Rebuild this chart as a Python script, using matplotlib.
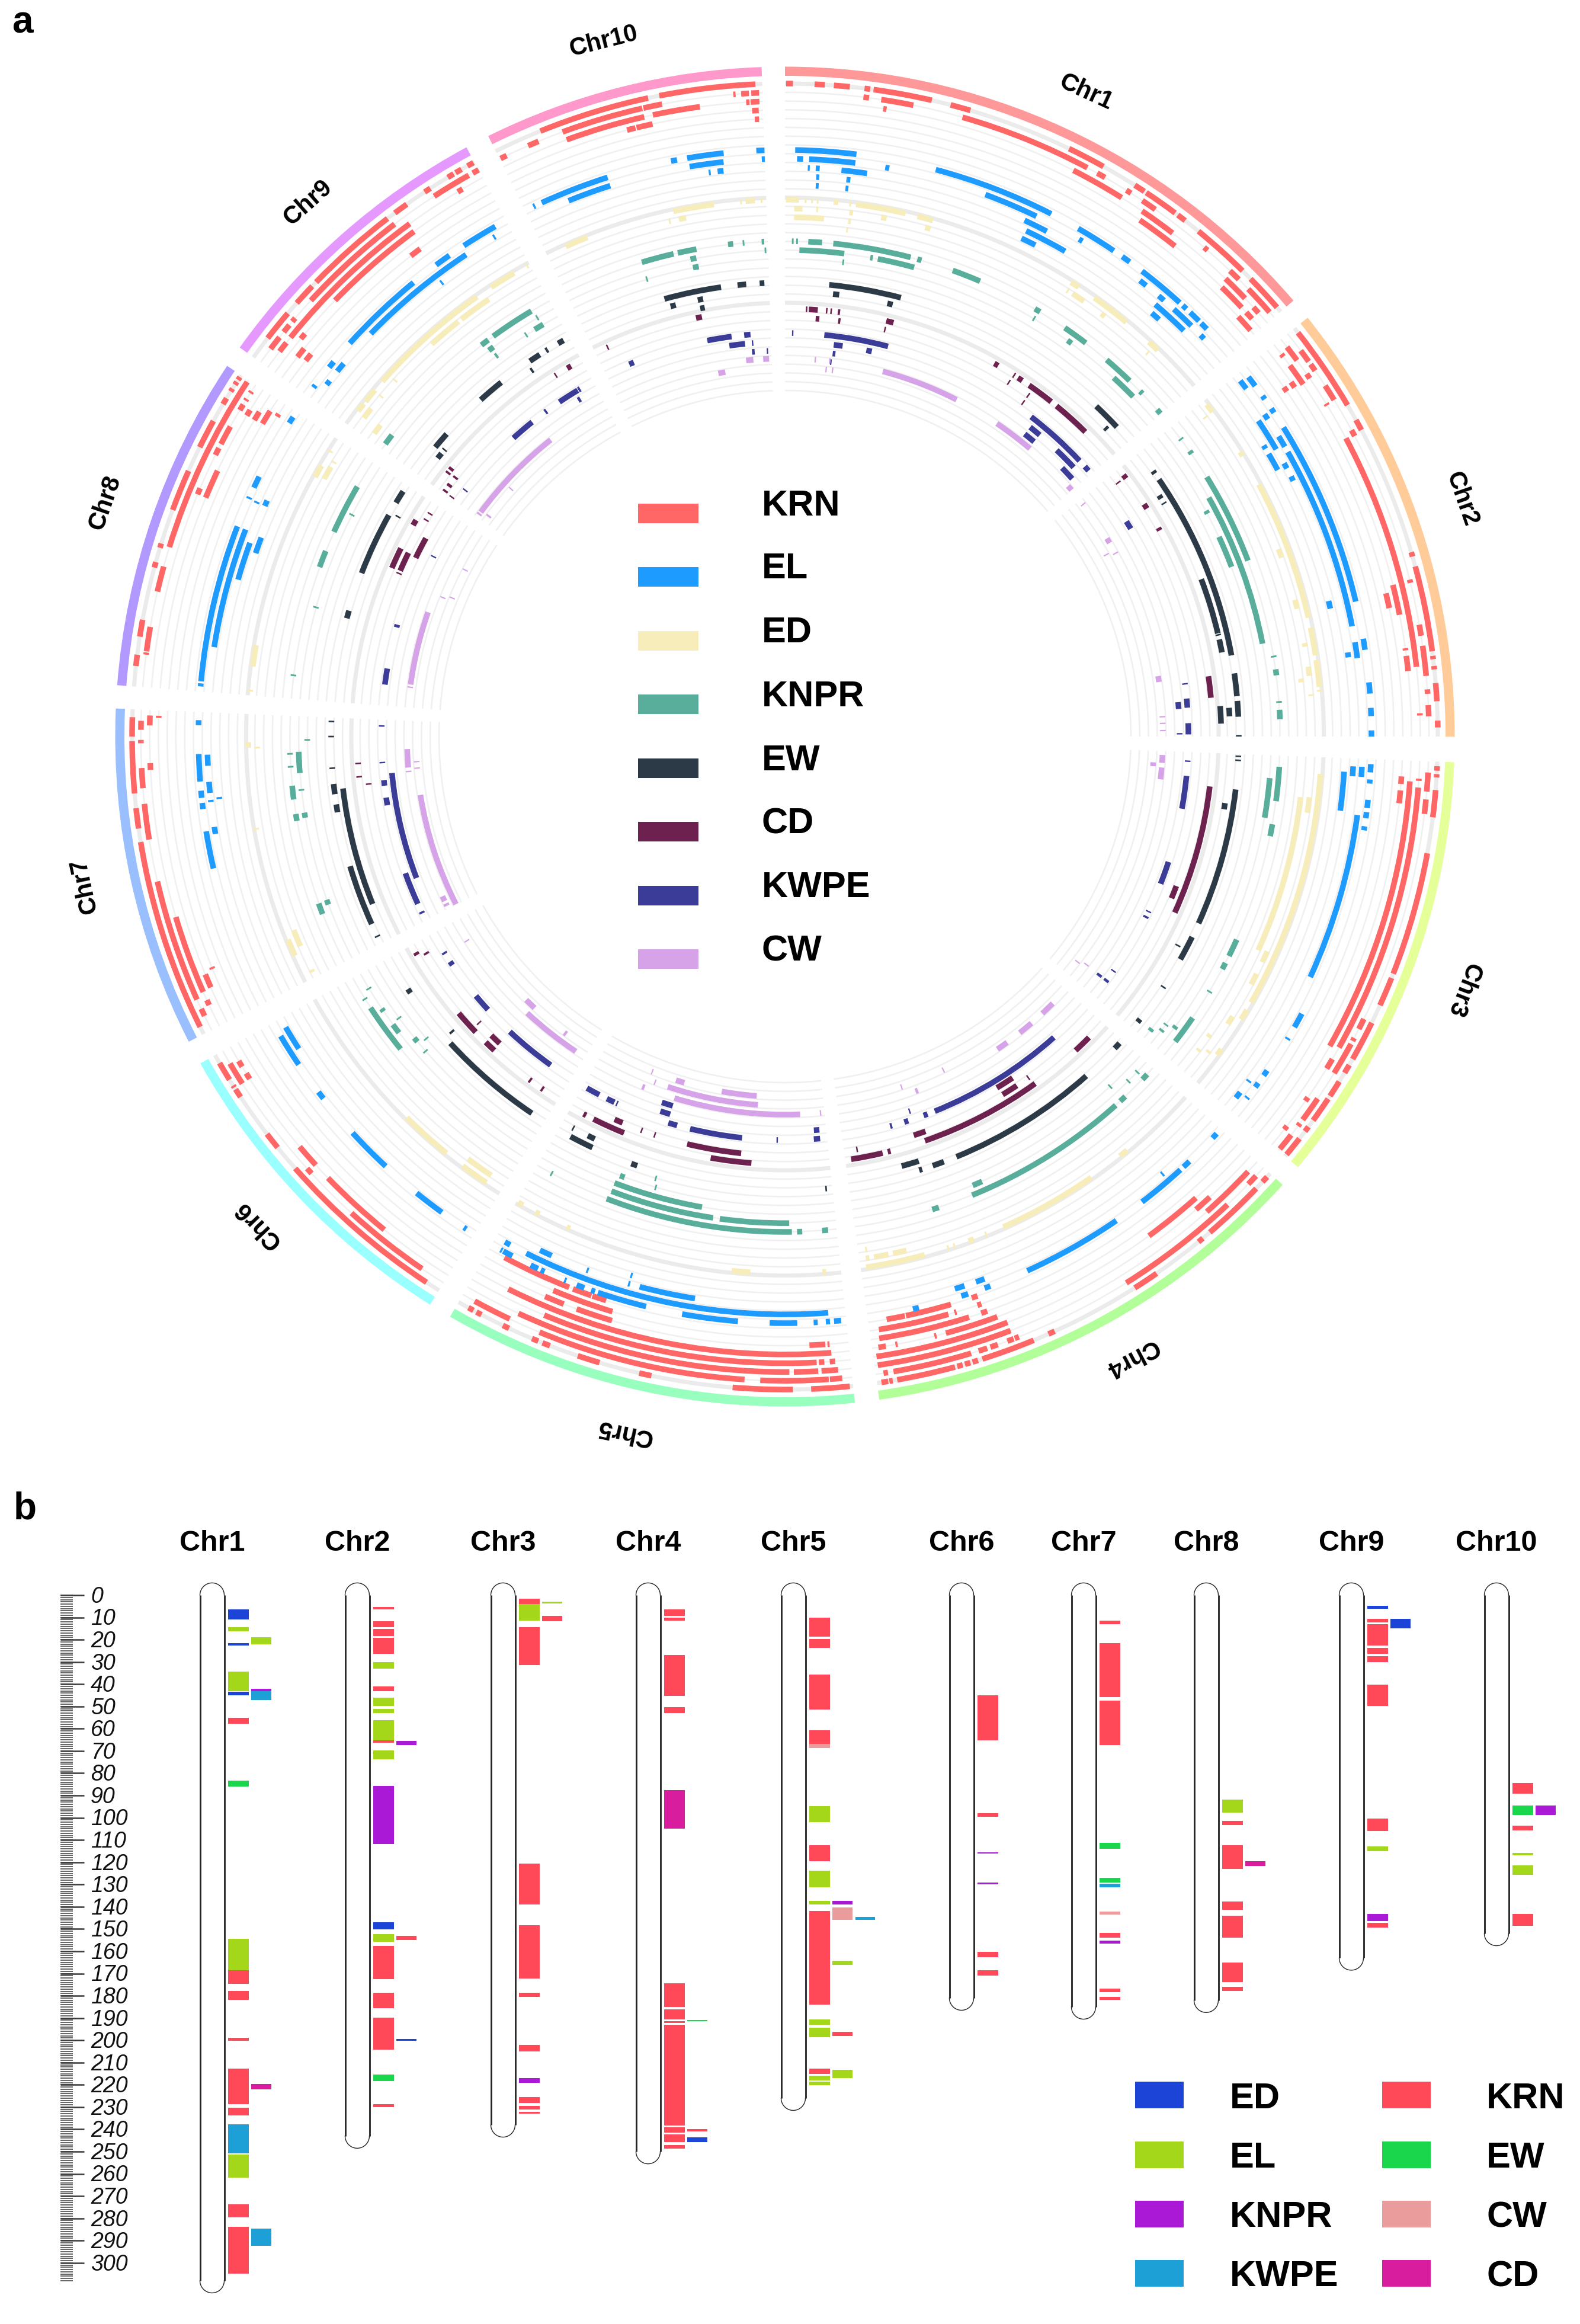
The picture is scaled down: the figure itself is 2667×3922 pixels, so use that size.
import numpy as np
import matplotlib
matplotlib.use("Agg")
import matplotlib.pyplot as plt
from matplotlib.patches import Rectangle

plt.rcParams['font.family'] = ['Liberation Sans', 'DejaVu Sans']

W, H = 2667, 3923
CX, CY = 1325, 1244

CHR_NAMES = ['Chr1', 'Chr2', 'Chr3', 'Chr4', 'Chr5', 'Chr6', 'Chr7', 'Chr8', 'Chr9', 'Chr10']
SECTOR_START = [0.0, 51.3, 92.2, 132.0, 174.0, 212.0, 242.9, 274.4, 305.5, 333.7]
SECTOR_END = [49.4, 90.0, 130.0, 171.9, 210.0, 240.8, 272.4, 303.6, 331.6, 358.0]
SECTOR_COLORS = ['#FF9999', '#FFCC99', '#E5FF99', '#B2FF99', '#99FFBF', '#99FFFF',
                 '#99BFFF', '#B299FF', '#E599FF', '#FF99CC']
LABEL_ANGLE = [25.0, 70.6, 110.4, 150.8, 193.0, 227.2, 258.0, 289.0, 318.2, 345.4]
LABEL_R = [1201, 1211, 1222, 1200, 1204, 1212, 1209, 1214, 1209, 1213]

TRAITS_A = ['KRN', 'EL', 'ED', 'KNPR', 'EW', 'CD', 'KWPE', 'CW']
COLORS_A = ['#FF6666', '#1E9BFF', '#F7EDBB', '#58AE9A', '#2C3A47', '#6D214F', '#3B3B98', '#D6A2E8']
BASE_R = [1102, 990, 906, 836, 766, 722, 681, 638]

# (row, start, end): start and end are positions on the circle, in degrees
KRN = [
 (0,.1,.7),(0,2.6,3.5),(0,4.3,5.7),(0,7,7.5),(1,7,7.5),(0,7.8,13),(1,8.6,11.5),(2,8.9,9.2),(0,14.7,16.5),(1,16,28),
 (0,25.8,29.2),(2,27,32),(1,29,29.8),(1,32,32.5),(0,32.4,33.4),(0,33.6,36.7),(1,33.7,35.1),(0,37,37.8),(2,34.2,37.6),
 (3,34.5,38.5),(0,39.3,44.5),(1,40.6,41),(1,43.7,44.8),(0,45.5,48.9),(1,46,48.8),(2,43.9,46.4),(3,44.2,46.8),(2,47.5,48.2),
 (3,47.4,48.2),(4,47.2,48.9),
 (0,51.8,59.5),(2,52.2,53.7),(1,53.2,54.4),(3,52.4,52.7),(1,54.7,55.4),(3,53.7,55.8),(2,55.2,55.7),(4,55,55.6),(5,55,55.5),
 (1,57,58.5),(2,58.4,58.6),(0,61,62),(1,61.6,62.2),(2,62,83.7),(0,74.9,82.5),(3,76,78.8),(4,76.6,78),(0,73.6,74),(1,75.9,76.2),
 (1,80,81),(3,81.9,82.1),(1,81.9,84.6),(0,82.9,83.2),(0,83.8,84.1),(3,82.6,84),(0,85.3,86.9),(1,85.8,86.2),(1,87.2,88.2),(0,88.6,89.2),(2,87.9,88.1),
 (0,94.7,97.1),(1,93.2,94.9),(1,95.6,96.9),(3,94.1,119.6),(2,94.6,119.3),(0,100.3,111.3),(0,111.7,114.3),(0,116,119.6),(4,95,96.2),(4,93.7,94.4),
 (0,92.6,93),(0,93.3,93.6),(2,93.8,94),(1,116,117),(1,117.9,118.2),(1,118.5,121.5),(2,120.5,121.5),(0,120.2,121),(0,121.9,123.4),(0,123.7,126),(1,124.2,126.5),
 (2,124.6,125),(1,126.9,127.2),(0,126.7,127.2),(1,128.2,129.8),(0,128,129.8),(2,127.8,128.2),
 (4,138.3,143.9),(2,133.2,138.4),(1,133,134),(0,132.4,133),(0,133.8,139.4),(1,136.6,148),(0,145.3,147.6),(3,137.3,139),(0,140.2,140.7),
 (0,155.6,156.2),(0,157.6,162.4),(0,162.8,163.3),(0,163.5,164),(0,164.2,164.7),(0,164.9,170.1),(0,170.5,170.8),(0,170.9,171.5),
 (1,163.2,170.3),(1,170.8,171.2),(1,161.7,162.5),(1,160.7,161.4),(1,159.2,159.8),(1,158.7,159.1),
 (2,159.2,171.6),(3,159.2,171.6),(4,170.6,171.3),(4,169.5,169.7),(4,159.9,164.9),(4,165.8,166),
 (5,162.4,171.1),(5,160.6,161.2),(6,164.2,171),(6,163.4,163.6),(6,160.9,161.3),(7,168.3,170.1),(7,163.7,168.2),(7,161,161.6),
 (0,174.3,177.7),(0,179.3,184.6),(1,176.1,182.2),(1,174.9,176),(1,183.6,202.4),(2,179.6,204.8),(3,177.1,202.6),(2,177,179.2),(2,175.2,176.7),
 (4,175.7,206.6),(3,176.4,176.9),(3,175.4,175.9),(5,176.2,177.7),(5,175.8,176),(1,205.3,208.8),(0,208.5,209),(0,207.7,208.2),(0,205,205.6),
 (0,202.2,202.8),(0,201.1,201.8),(0,196.5,198.5),(0,191.8,192.9),(7,201.4,208.3),(6,196.7,202.7),(7,199.1,201),(7,197.6,199),(5,201.3,203.2),(5,196.5,200),
 (0,213.3,228.6),(1,214.3,222.3),(2,219.1,226),(2,227.6,229.8),(1,227.3,227.9),(0,231,232.5),(0,238.3,240),(1,237.4,239.5),(2,238.7,239.3),(2,237.4,238),
 (0,237.5,237.7),(0,236.5,237.3),
 (0,243.6,260.7),(1,245.9,257),(2,246.3,253.5),(1,260.8,264),(0,261.9,263.7),(0,265,269.6),(1,265.4,267.2),(2,267,267.6),(1,269.4,269.7),(3,246.4,247.7),(4,247.9,248.1),
 (1,244.3,245),(2,245,245.5),(0,270,271.7),(1,270.6,271.4),(2,271,271.9),(3,271.7,271.9),
 (1,287.1,303.4),(2,297.4,299.2),(0,296.3,298.9),(0,290.3,294),(3,292.4,295.1),(2,292.4,293),(2,296.3,297),(0,286.8,287.2),(0,285,285.5),(1,283,285.3),(0,278.8,280.3),
 (1,277.6,279.8),(0,276.2,277.2),(1,277.3,277.5),(3,300.8,301.4),(4,300.8,301.7),(5,300.9,302.3),(6,302.2,302.5),(2,300.9,301.5),(2,301.9,302.1),(0,300.6,301.2),
 (0,301.9,302.2),(0,302.6,302.9),(0,303.1,303.4),(2,302.7,302.9),
 (3,314.1,323.7),(0,314.1,322.5),(1,312.6,322.7),(2,308.9,323.8),(0,311.6,313.6),(0,307.6,310.4),(1,310.1,310.5),(1,308.9,309.7),(1,307,308.3),(2,307.3,308.3),
 (4,307.9,308.9),(5,308.1,308.9),(3,309.4,310),(0,323.3,324.6),(5,322.1,323.2),(1,327,330.6),(0,330.9,331.5),(1,331,331.6),(0,328.9,329.5),(0,329.7,330.3),(0,326.5,327.1),(2,329,329.5),
 (0,348.9,357.4),(0,338,347.9),(1,347.3,349),(1,339.8,347.2),(2,348,352.3),(2,339.9,347.2),(3,346.3,347.8),(3,345.4,346.2),(1,336.5,337.5),(1,333.8,334.4),(1,357,357.7),
 (1,356.1,356.8),(1,355.4,355.6),(2,356.9,357.7),(2,356.5,356.8),(3,357,357.6),(4,357.2,357.6),(2,350.4,350.6),
]
EL = [
 (0,1,7),(1,1.2,1.8),(1,2.4,7),(1,10,10.4),(2,2.3,2.5),(2,3.1,3.5),(2,5.7,8.3),(3,3.2,3.5),(3,6.3,6.7),(4,3.2,3.5),(4,6.3,6.6),
 (0,14.9,27),(1,20.3,25.8),(2,24.9,27.4),(3,25.5,30),(4,25.4,27),(0,30,34.1),(1,30.6,31),(0,35.1,36),(0,37.5,42.3),(1,37.9,38.7),(1,40.3,41),
 (0,42.7,43.2),(0,43.7,44.9),(0,45.2,46),(1,42.3,44.7),(2,40.6,44.5),(3,40.9,41.9),(1,46,46.5),
 (0,58.2,76.7),(1,60.5,79),(2,56.3,59.7),(1,58.7,59.9),(3,59.7,61.6),(3,58.7,59.1),(2,61.3,61.9),(2,62.8,63.3),(0,56,56.5),(1,56.1,56.7),(0,54.5,54.9),(0,52.2,53.3),(1,52,53),
 (3,76,76.8),(0,80.4,81.5),(1,80.6,82.2),(2,81.5,82),(0,84.7,85.8),(0,87.2,88),(0,89.4,90),
 (1,97.8,114.6),(3,93.6,97.6),(2,93,94),(1,93,94),(0,92.7,93.5),(0,94.2,94.6),(0,96.2,97),(0,97.4,98),(0,98.8,99.2),(0,118.2,119.7),(0,120.9,121.1),(0,124.7,125.3),(0,126.2,126.7),
 (1,126.5,126.7),(0,127.9,128.1),(1,128,128.7),
 (0,145.6,155.6),(0,137.6,142.5),(0,136.4,137.2),(1,139.1,139.3),(0,132.6,133.2),(1,161.9,162.9),(1,159.8,160.7),(0,161.8,162.5),(0,159.5,160.1),(0,166.8,167.4),
 (1,175.7,206.6),(2,204.2,205.5),(2,189.1,194.8),(0,193.7,198.6),(0,184.6,190.1),(0,178.8,181.5),(0,176.8,177.2),(0,175.6,176),(0,174.5,175.2),
 (0,198.9,199.3),(0,200,200.8),(0,201.9,202.1),(0,204.9,205.7),(0,204.2,204.6),(0,207.7,208.7),(0,208.8,209),(1,208.4,209),(2,200.2,200.4),(3,195.8,196),(2,195.8,196),
 (1,237.3,239.8),(0,236,239.3),(0,231.9,232.7),(0,222.9,227.5),(0,215.8,218.9),(0,212.9,213.2),
 (0,257,260.7),(1,260.3,261),(0,265.6,268.3),(1,267.1,268.2),(1,264.4,265.5),(0,264,264.7),(0,262.9,263.5),(1,263.5,263.7),(2,263.7,263.9),(0,271.1,271.6),
 (0,275.4,291),(1,278.9,291),(2,286,289.9),(3,289.1,290.8),(0,295.1,296.3),(0,293.9,294.1),(2,293.9,294.5),(0,302.3,303),(1,293.8,294),(0,274.9,275.2),
 (0,326.8,330.4),(1,314.2,326.5),(0,312.1,320.7),(0,323.5,325.1),(1,329.7,329.9),(2,322.8,323),(1,309.2,310.2),(0,309,309.7),(1,307.5,308),(0,306.5,306.8),
 (0,350.4,354),(1,350.5,353.9),(0,348.8,349.4),(2,353.2,353.8),(0,357.2,358),(1,357.7,358),(2,352.3,352.5),(0,335.5,342.4),(1,338,342.4),(0,334.6,334.8),
]
ED = [
 (0,.1,1.5),(0,2.1,2.3),(0,2.8,3),(0,3.4,3.6),(0,5.2,5.7),(0,6.9,7.1),(0,7.6,13),(0,14.3,16),(1,1,1.9),(1,3.4,3.6),(1,7,7.4),(2,1,4.3),(2,7,7.3),(1,10.5,11.1),
 (1,15.4,16),(3,6.9,7.1),(0,32.2,33.2),(1,32.3,32.5),(1,33,34.5),(0,35.2,39.5),(1,36.8,37.3),(0,42.7,44),(1,43.3,43.5),
 (0,62,77.2),(1,69.2,70.2),(0,78.3,81.3),(1,75,76),(1,79.8,80.2),(0,81.8,84.7),(1,82.4,83.4),(2,83.6,84),(1,85.4,85.6),(0,85,85.2),(0,51.8,52.8),(1,52.7,52.9),(0,58,58.5),
 (0,94,119.7),(2,96.7,114.3),(1,96.6,98.3),(1,114,115.3),(1,116.7,118),(0,120.6,121.8),(1,122,123),(0,125.6,126.4),(1,126.5,126.8),(2,127,127.3),(2,125,125.4),
 (0,145.2,156),(0,140.4,141.4),(0,164.9,171.3),(1,168.7,170.3),(1,166.7,168.2),(2,170.9,171.1),(1,170.8,171.2),(0,162.2,162.4),(0,161.5,161.7),(0,159.4,160),(0,157.9,158.1),
 (0,183.7,185.7),(0,175.6,176),(0,209.2,209.8),(0,207.2,207.7),(0,203.6,204),
 (0,219.1,224.8),(1,213.8,216.9),(0,213.8,216.9),
 (0,245.9,247.8),(1,246.6,248.5),(1,243.5,243.8),(0,268.8,269.4),(1,268.7,268.9),(0,260,260.2),
 (0,277.5,279.8),(0,298.9,300.3),(1,299.2,300.7),(1,301.2,301.4),(0,302,302.2),(0,274.8,275),
 (0,326.8,329.7),(0,311.4,325),(1,322.2,325.9),(1,318,321.8),(0,308.6,310.2),(1,307.1,308.4),(0,307.3,308.3),(3,306.4,307.6),(0,331.2,331.4),(1,310,310.2),(1,312.3,312.5),
 (0,348,352.4),(1,348.4,349.2),(1,347.3,347.5),(0,355.8,356.8),(0,357.4,357.6),(0,355.2,355.4),(0,335.9,338.4),
]
KNPR = [
 (0,5.6,14.7),(0,.8,1),(0,1.3,1.5),(0,2.7,4.3),(1,1.7,7),(1,11,15.4),(2,6.9,7.1),(1,10.1,10.4),(0,15.5,16),(0,19.8,23.2),(0,30.3,31),(1,30.7,30.9),(0,34.4,37.4),(1,35.5,36.1),
 (0,40.5,44.1),(1,42.5,45.7),(0,45.8,46.2),(0,48.7,49.3),
 (0,58.4,69.2),(1,60.6,79),(2,65.3,69.2),(2,61.8,62.2),(0,53,53.2),(0,54.8,55.2),(0,80.6,80.8),(0,82.2,82.9),(0,85.9,86.1),(0,86.9,88),
 (0,93.5,97.5),(1,94.9,99.6),(0,100.2,101.6),(0,114.2,116.3),(0,117.2,118),(0,120.9,121.1),(0,124.6,128),(2,127,127.2),(1,126.5,126.9),(2,127.8,128.1),(3,128.5,128.9),
 (0,138.1,157.8),(1,156.1,157.3),(0,161.9,162.7),(0,133,133.8),(0,136.6,137.4),(1,135,135.2),(1,133.5,133.7),(2,137,137.2),
 (2,190,200.9),(1,188.5,200.9),(1,179.5,187.7),(0,179.2,201.1),(0,178,178.6),(0,175,175.7),(3,200,200.6),(3,195.9,196.1),(4,196.2,196.4),(0,208,208.2),
 (0,230.9,236.8),(1,232.5,233.7),(1,235.6,236),(2,230.3,230.9),(2,233.8,234),(2,228.7,228.9),(3,229.8,230),(0,237.9,238.1),(1,238.7,238.9),
 (1,265.7,268.2),(2,269.5,269.7),(0,266.4,266.6),(0,267.9,268.1),(0,262.7,264.3),(0,260.2,261),(1,260.4,261),(0,249,250.3),(1,249.8,250.4),(1,263.6,263.8),(1,267,267.2),
 (0,294.4,300.3),(0,290,292),(1,297,297.2),(1,285.3,285.5),(0,277,277.2),
 (0,323.9,329.2),(2,328.4,329.6),(1,329.3,329.5),(2,327.1,327.3),(0,322.2,323.2),(1,322.5,323.2),(2,322.7,323),(0,306.2,307.5),
 (0,347.5,349.7),(0,343.2,347),(1,348.8,349.5),(2,348.9,349.6),(0,353.4,354),(0,355.1,355.3),(0,357.3,357.6),(1,357.6,357.8),(2,343.1,343.3),
]
EW = [
 (0,5.6,14.8),(1,6.2,7),(1,13.3,14),(0,43.3,47),(1,46,46.4),
 (0,55.5,79.7),(1,69.3,76.6),(1,77.4,79.1),(1,76.7,76.9),(0,54.2,54.6),(1,57.2,57.7),(1,58.3,58.5),(0,82,84.9),(2,86,88.3),(1,86.3,87.4),(0,85.5,87.5),(0,89.8,90),
 (0,96.7,114.3),(1,98.6,99.4),(0,92.4,92.6),(0,92.9,93.1),(0,116.2,119.4),(1,117.9,118.1),(0,123.4,123.6),(0,128.5,129),
 (0,138.4,157.8),(0,159.5,161),(1,162.5,164.8),(0,162.4,162.8),(1,163.9,164.1),(0,132.5,133.4),
 (0,205.1,208.2),(1,205.3,206.3),(1,208.3,208.5),(0,199,199.8),(0,174.7,174.9),
 (0,213.9,227.5),(1,228.3,228.6),(0,235.6,236.2),
 (1,247.9,263.3),(0,245.6,253.4),(0,260.4,261.4),(0,265.9,266.1),(0,262.7,264),(0,243.8,244),(0,271.8,272),(0,269.9,270.1),
 (0,291.1,299.2),(0,301,302.7),(0,285.1,286.1),(1,299.5,299.7),
 (0,330,330.8),(0,328.2,328.5),(0,325.8,327.3),(1,325.2,325.5),(0,317.9,321.3),(0,309.6,311.8),(1,308.7,309.5),(1,310,310.2),
 (0,344.6,351.9),(0,354,355.1),(0,356.8,357.4),(1,348.7,349.4),(1,345.1,345.8),(2,348.8,349.4),
]
CD = [
 (0,3.2,4.4),(0,2.8,3),(0,5.5,5.7),(0,6.1,6.3),(0,7.1,7.4),(1,4.2,4.7),(1,7.3,7.6),(1,13.7,13.9),(0,13.7,14.7),(0,29.3,29.9),(1,32.2,32.4),(0,32.3,32.5),(0,33,33.7),(0,34.8,38.5),
 (1,35.4,35.6),(2,35.4,35.6),(0,39.4,44.6),
 (0,52.3,52.9),(1,52.6,52.8),(0,57.1,57.8),(0,60.8,61.2),(0,81.9,84.8),
 (0,96.7,114.3),(1,110.9,112.7),
 (0,144.2,160.9),(1,160.4,162.1),(0,166.8,171.1),(0,165.7,166.1),(1,170,170.2),(2,146.3,148.9),(1,146.4,148.7),(1,144.4,144.6),(0,134.7,137.2),
 (0,202.1,206.6),(0,207.7,208.1),(1,202.8,204),(1,186,193.5),(0,184.5,190),(1,199.9,200.1),(1,198,198.2),
 (0,226.3,229.7),(1,226.8,227),(1,222.9,224.5),(0,222.8,224.4),(0,214.4,214.7),(0,216.4,216.7),(0,239.3,239.7),(1,238.7,239),
 (0,266.3,266.5),(0,264.5,264.7),(1,263.4,263.6),
 (0,293.2,296.1),(1,293.3,296),(2,295.8,298.9),(0,299.6,300.4),(1,301,301.2),(1,302,302.2),(1,292.8,293),
 (0,329.4,330),(0,327.5,327.7),(0,308.5,308.9),(0,307.9,308.2),(1,306.6,307),(1,305.7,306),(2,305.6,305.8),(1,308,308.3),
 (0,348,348.8),(0,335.4,335.6),
]
KWPE = [
 (0,5.6,14.8),(0,1,1.2),(1,7.1,8.4),(1,11.9,12.7),(2,7.1,7.5),(3,6.9,7.1),(0,37.6,46.9),(1,38.4,40.2),(2,38.4,40.2),(1,43.5,47),(2,45.9,48.1),(0,48,48.8),
 (0,57.8,59),(0,82.4,82.6),(0,84.6,85.9),(1,85,86),(0,88.1,89.7),(1,89.5,89.7),
 (0,95.6,100.3),(0,108.1,111.4),(0,93.4,93.6),(0,116.4,116.7),(0,115.6,115.8),(1,127,127.4),(0,127,127.4),(0,125.4,125.6),
 (0,138.2,158.2),(0,159.3,159.9),(0,162.2,162.8),(0,164.6,164.9),(1,161.5,161.7),
 (0,207.4,209.4),(0,205,206.2),(0,204.5,204.7),(2,196.9,198.6),(1,196.9,198.4),(0,195.5,196.8),(0,186.1,193.6),(0,181,181.2),(1,175,175.8),(0,175,175.9),
 (0,227.4,230),(0,215.5,223),(0,237.4,237.7),(0,235.5,236.1),
 (1,249,264.7),(0,245.5,250.2),(0,263,263.8),(0,260.2,261.3),(0,266.2,266.4),(1,262,262.2),(1,264,264.2),(0,271.4,271.6),(0,244,244.3),
 (0,277.4,279.7),(0,285.7,286.1),(1,297,297.2),
 (0,326,329.1),(1,328.4,328.8),(0,329.2,329.5),(0,317.7,321.2),(0,323.5,323.8),(0,307.5,307.7),
 (0,348.9,352.4),(0,354.2,355.1),(1,351.9,354.2),(2,355.1,355.5),(1,355.2,355.4),(0,337.3,338),(2,357.3,357.5),
]
CW = [
 (0,15,27),(0,34.1,40.4),(0,4.5,4.7),(1,6.3,6.5),(1,7.3,7.5),(0,6.7,6.9),(0,48.5,49.3),
 (0,58.4,59.2),(1,60.4,60.6),(0,60.9,61.1),(0,52,52.2),(0,80.8,81.7),(0,86.9,87.1),(0,87.9,88.1),(0,89,89.2),
 (0,92.8,94),(1,94,94.6),(0,94.7,96.5),(1,127.5,127.7),(0,127,127.2),
 (0,134.9,137.1),(0,139.3,141.6),(0,144,145.8),(0,159.4,159.8),(1,161.5,161.7),(1,154.5,154.7),
 (1,184.2,198.5),(2,196.2,197.6),(0,177.7,197),(2,184.5,190.1),(0,201.8,202.2),(1,200.5,200.7),(2,201.5,201.7),(1,184.7,184.9),(0,174.5,174.7),
 (1,222.7,224.5),(0,213.6,223),(1,216.3,216.7),(0,237.2,237.4),
 (1,243,260.9),(0,265.3,268.1),(0,244.2,245),(0,243.4,243.8),(1,265,265.2),(1,266,266.2),(0,264.6,264.8),
 (0,277.9,289.2),(1,292,292.2),(2,292.5,292.7),(2,297.4,297.6),(0,277.4,277.6),
 (0,306.4,321.7),(0,305.9,306.2),(1,306.5,306.8),(1,312,312.2),
 (0,354.1,355.2),(0,356.7,357.6),(1,349.6,350.7),
]
ARCS = [KRN, EL, ED, KNPR, EW, CD, KWPE, CW]

# Panel b: QTL blocks in Mb, (trait, start, end)
TRAITS_B = ['ED', 'EL', 'KNPR', 'KWPE', 'KRN', 'EW', 'CW', 'CD']
COLORS_B = ['#1C44D6', '#A4D61A', '#AA1AD6', '#1CA0D6', '#FF4858', '#1AD64C', '#EA9C9C', '#D81E9E']
CHR_LEN = [308, 243, 238, 250, 226, 181, 185, 182, 163, 152]
TICK_MB = np.arange(0, 301, 10)
RULER_MB = np.arange(0, 309, 1)

chr1_a = [('ED',6.3,10.9),('EL',14.5,16.2),('ED',21.5,22.5),('EL',34.3,43.2),('ED',43.5,45),('KRN',55,57.7),('EW',83.3,86),('EL',154.3,168.4),
          ('KRN',168.6,174.6),('KRN',177.8,181.9),('KRN',199,200.2),('KRN',212.8,228.7),('KRN',230.2,233.8),('KWPE',237.7,250.7),('EL',251.4,261.8),
          ('KRN',273.7,279.5),('KRN',283.8,304.8)]
chr1_b = [('EL',18.8,22),('KNPR',42,43.2),('KWPE',43.2,47.1),('CD',219.6,222),('KWPE',284.5,292.3)]
chr2_a = [('KRN',5.3,6.3),('KRN',11.8,14.3),('KRN',15.2,18.4),('KRN',19.3,26.3),('EL',30.2,33.1),('KRN',41,43),('EL',46.1,49.8),('EL',51.2,53.1),('EL',56.3,65.2),
          ('KRN',65.2,66.4),('EL',69.8,73.7),('KNPR',85.7,111.8),('ED',147,150.2),('EL',152.4,155.8),('KRN',157.5,172.5),('KRN',178.7,185.7),('KRN',189.9,204.3),
          ('EW',215.5,218.4),('KRN',228.7,230)]
chr2_b = [('KNPR',65.5,67.4),('KRN',153.1,155),('ED',199.3,200.2)]
chr3_a = [('KRN',1.7,4.1),('EL',4.1,11.4),('KRN',14.5,31.4),('KRN',120.5,138.9),('KRN',148.3,172.2),('KRN',178.7,180.4),('KRN',202.2,205.1),('KNPR',217.1,219.1),
          ('KRN',225.6,228.3),('KRN',229.5,231.2),('KRN',232.1,232.9)]
chr3_b = [('EL',2.9,3.6),('KRN',9.2,11.8)]
chr4_a = [('KRN',6.3,9.2),('KRN',10.1,11.4),('KRN',26.8,45.2),('KRN',50.2,52.9),('CD',87.7,104.8),('KRN',174.4,185),('KRN',186.2,190.6),('KRN',191.3,192.3),
          ('KRN',193,238.4),('KRN',239.1,241.5),('KRN',242.3,245.7),('KRN',247.1,248.8)]
chr4_b = [('EW',190.8,191.5),('KRN',240,241),('ED',243.7,245.7)]
chr5_a = [('KRN',10.1,18.6),('KRN',19.8,23.7),('KRN',35.7,51.4),('KRN',60.6,66.7),('CW',66.7,68.8),('EL',94.9,101.9),('KRN',112.3,119.6),('EL',123.9,131.2),('EL',137.4,138.9),
          ('KRN',141.8,184),('EL',190.6,193),('EL',194.4,198.6),('KRN',212.6,215.2),('EL',215.9,218.1),('EL',218.6,220.3)]
chr5_b = [('KNPR',137.4,138.9),('CW',140.3,145.9),('EL',164.3,166.2),('KRN',196.1,198.1),('EL',213.3,217.1)]
chr5_c = [('KWPE',144.7,145.9)]
chr6_a = [('KRN',44.9,65.2),('KRN',98,99.5),('KNPR',115.5,116.2),('KNPR',129.2,130),('KRN',160.4,162.8),('KRN',168.4,171)]
chr7_a = [('KRN',11.4,13),('KRN',21.5,45.7),('KRN',47.3,67.4),('EW',111.4,114),('EW',127,129.2),('KWPE',129.7,131.2),('CW',142.3,143.5),('KRN',151.7,153.9),
          ('KNPR',155.3,156.5),('KRN',176.8,178.5),('KRN',180.4,181.9)]
chr8_a = [('EL',91.8,97.6),('KRN',101.4,103.4),('KRN',112.3,122.9),('KRN',137.7,141.5),('KRN',144,153.9),('KRN',165.2,173.9),('KRN',176.1,177.8)]
chr8_b = [('CD',119.6,121.7)]
chr9_a = [('ED',4.8,6),('KRN',10.6,12.3),('KRN',13,22.5),('KRN',23.7,26.3),('KRN',27.5,30.2),('KRN',40.3,49.8),('KRN',100.5,106),('EL',112.8,115),('KNPR',143.2,146.4),('KRN',147.1,149.3)]
chr9_b = [('ED',10.6,15)]
chr10_a = [('KRN',84.5,89.1),('EW',94.4,98.8),('KRN',103.6,105.6),('EL',115.9,116.9),('EL',121.5,125.6),('KRN',143.2,148.6)]
chr10_b = [('KNPR',94.4,98.8)]
BLOCKS = [[chr1_a, chr1_b], [chr2_a, chr2_b], [chr3_a, chr3_b], [chr4_a, chr4_b], [chr5_a, chr5_b, chr5_c],
          [chr6_a], [chr7_a], [chr8_a, chr8_b], [chr9_a, chr9_b], [chr10_a, chr10_b]]
IDEO_X = [358, 603, 849, 1094, 1339, 1623, 1829, 2036, 2281, 2526]

LEGEND_B_ROWS = [['ED', 'KRN'], ['EL', 'EW'], ['KNPR', 'CW'], ['KWPE', 'CD']]

fig = plt.figure(figsize=(W / 100, H / 100), dpi=100, facecolor='white')

# ---------- Panel a
R_MAX = 1240.0
ax = fig.add_axes([(CX - R_MAX) / W, 1 - (CY + R_MAX) / H, 2 * R_MAX / W, 2 * R_MAX / H], projection='polar')
ax.set_theta_zero_location('N')
ax.set_theta_direction(-1)
ax.set_rlim(0, R_MAX)
ax.axis('off')
ax.patch.set_alpha(0)

THICK = (0, 13, 25)
for s, e in zip(SECTOR_START, SECTOR_END):
    th = np.radians(np.linspace(s, e, 90))
    for k in range(36):
        r = 1102 - 14.8 * k
        ax.plot(th, np.full_like(th, r), color='#EBEBEB' if k in THICK else '#F0F0F0',
                lw=(7 if k in THICK else 2.6) * 0.72, solid_capstyle='butt', zorder=1)

for name, s, e, c, la, lr in zip(CHR_NAMES, SECTOR_START, SECTOR_END, SECTOR_COLORS, LABEL_ANGLE, LABEL_R):
    ax.bar(np.radians((s + e) / 2), 15.5, width=np.radians(e - s), bottom=1115, color=c, linewidth=0, zorder=3)
    mid = (s + e) / 2
    ax.text(np.radians(la), lr, name, rotation=-mid, rotation_mode='anchor', ha='center', va='center',
            fontsize=30, fontweight='bold', color='black', clip_on=False)

for arcs, col, base in zip(ARCS, COLORS_A, BASE_R):
    a = np.array(arcs, dtype=float)
    ax.bar(np.radians((a[:, 1] + a[:, 2]) / 2), 9.5, width=np.radians(a[:, 2] - a[:, 1]),
           bottom=base - 14.8 * a[:, 0] - 4.75, color=col, linewidth=0, zorder=2)
ax.set_rlim(0, R_MAX)

# ---------- Pixel overlay for legends and panel letters
px = fig.add_axes([0, 0, 1, 1], facecolor='none')
px.set_xlim(0, W)
px.set_ylim(H, 0)
px.axis('off')

LEG_A_Y = [851, 958, 1066, 1173, 1281, 1388, 1496, 1603]
for t, c, y in zip(TRAITS_A, COLORS_A, LEG_A_Y):
    px.add_patch(Rectangle((1077, y), 102, 33, facecolor=c, edgecolor='none'))
    px.text(1286, y + 3, t, fontsize=44, fontweight='bold', ha='left', va='center')

px.text(38, 38, 'a', fontsize=46, fontweight='bold', ha='center', va='center')
px.text(42, 2546, 'b', fontsize=46, fontweight='bold', ha='center', va='center')

LEG_B_Y = [3514, 3615, 3715, 3815]
color_of = dict(zip(TRAITS_B, COLORS_B))
for (left, right), y in zip(LEGEND_B_ROWS, LEG_B_Y):
    px.add_patch(Rectangle((1916, y), 82, 45, facecolor=color_of[left], edgecolor='none'))
    px.add_patch(Rectangle((2333, y), 82, 45, facecolor=color_of[right], edgecolor='none'))
    px.text(2076, y + 28, left, fontsize=44, fontweight='bold', ha='left', va='center')
    px.text(2509, y + 28, right, fontsize=44, fontweight='bold', ha='left', va='center')

# ---------- Panel b
PX_PER_MB = 3.756
Y0 = 2693
TOP = 2640
axb = fig.add_axes([0, 0, 1, 1 - TOP / H], facecolor='none')
axb.set_xlim(0, W)
axb.set_ylim((H - Y0) / PX_PER_MB, (TOP - Y0) / PX_PER_MB)
axb.axis('off')

axb.hlines(RULER_MB, 102, 123, color='#3A3A3A', lw=1.1)
axb.hlines(TICK_MB, 102, 142, color='#3A3A3A', lw=1.8)
for v in TICK_MB:
    axb.text(153, v + 0.5, str(v), fontsize=27, style='italic', ha='left', va='center', color='#111111')

CAP_W = 20.5
CAP_H = 5.5
COL_OFFSET = [(27, 62), (66, 100), (105, 138)]
t = np.linspace(0, np.pi, 40)
for name, xc, L, cols in zip(CHR_NAMES, IDEO_X, CHR_LEN, BLOCKS):
    axb.plot([xc - CAP_W, xc - CAP_W], [0, L], color='#222222', lw=2.0, solid_capstyle='butt')
    axb.plot([xc + CAP_W, xc + CAP_W], [0, L], color='#222222', lw=2.0, solid_capstyle='butt')
    axb.plot(xc + CAP_W * np.cos(t), -CAP_H * np.sin(t), color='#222222', lw=1.0)
    axb.plot(xc + CAP_W * np.cos(t), L + CAP_H * np.sin(t), color='#222222', lw=1.0)
    axb.text(xc, (2605 - Y0) / PX_PER_MB, name, fontsize=35, fontweight='bold', ha='center', va='center', clip_on=False)
    for col, (x0, x1) in zip(cols, COL_OFFSET):
        for trait, a, b in col:
            axb.add_patch(Rectangle((xc + x0, a), x1 - x0, b - a, facecolor=color_of[trait], edgecolor='none'))

fig.savefig('out.png', dpi=100, facecolor='white')
